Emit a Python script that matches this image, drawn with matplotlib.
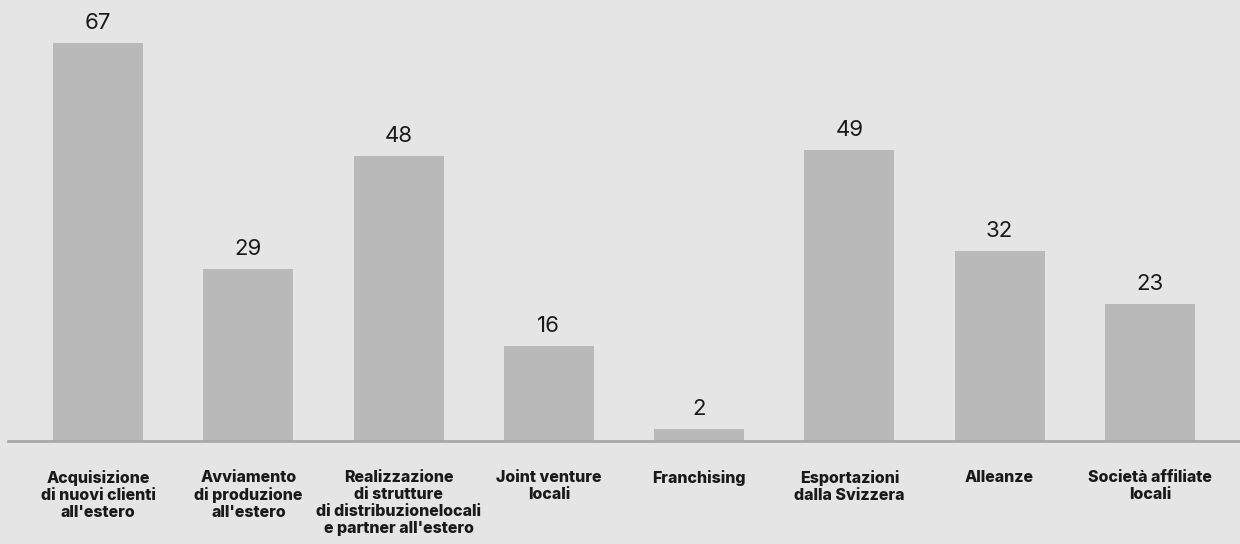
import matplotlib.pyplot as plt

# data
categories = [
    "Acquisizione\ndi nuovi clienti\nall'estero",
    "Avviamento\ndi produzione\nall'estero",
    "Realizzazione\ndi strutture\ndi distribuzionelocali\ne partner all'estero",
    "Joint venture\nlocali",
    "Franchising",
    "Esportazioni\ndalla Svizzera",
    "Alleanze",
    "Società affiliate\nlocali",
]
values = [67, 29, 48, 16, 2, 49, 32, 23]

bg = '#e5e5e5'
bar_color = '#b9b9b9'

fig = plt.figure(figsize=(12.4, 5.44), dpi=100, facecolor=bg)
ax = fig.add_axes([8 / 1240, 103 / 544, 1232 / 1240, 441 / 544])
ax.set_facecolor(bg)

x = range(len(categories))
bars = ax.bar(x, values, width=0.6, color=bar_color, zorder=2)

# value labels
for b, v in zip(bars, values):
    ax.annotate(str(v), (b.get_x() + b.get_width() / 2, v),
                xytext=(0, 10), textcoords='offset points',
                ha='center', va='baseline', fontsize=16,
                family='Inter', color='#1a1a1a')

ax.set_xlim(-0.6, 7.6)
ax.set_ylim(0, 74.2)

ax.set_xticks(list(x))
ax.set_xticklabels(categories, fontsize=11.5, fontweight='heavy',
                   family='Inter', color='#1a1a1a', linespacing=1.15, va='top')
ax.tick_params(axis='x', length=0, pad=21)
ax.set_yticks([])

for s in ['top', 'left', 'right']:
    ax.spines[s].set_visible(False)
ax.spines['bottom'].set_color('#a9a9a9')
ax.spines['bottom'].set_linewidth(2)
ax.spines['bottom'].set_zorder(3)

fig.savefig('out.png', dpi=100, facecolor=bg)
